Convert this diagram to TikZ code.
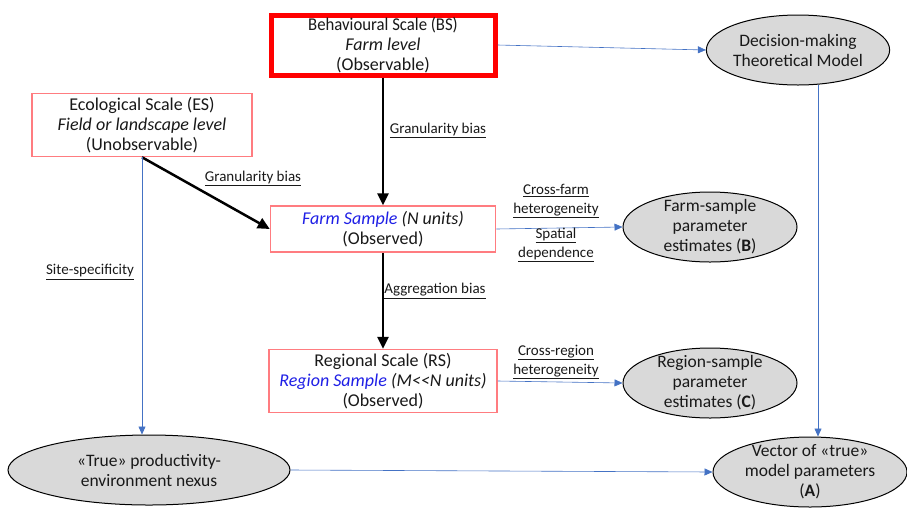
\documentclass[tikz,border=0pt]{standalone}
\usepackage{fontspec}
\setmainfont{Carlito}
\newfontfamily\tightfont{Carlito}[FakeStretch=0.93]
\usetikzlibrary{arrows.meta,positioning,shapes.geometric}
\definecolor{edge}{HTML}{FF7C80}
\definecolor{link}{HTML}{4472C4}
\definecolor{cloud}{HTML}{D9D9D9}
\definecolor{samp}{HTML}{1F1FE6}

\begin{document}
\begin{tikzpicture}[x=1pt,y=-1pt,text=black!90,
  scl/.style={rectangle,draw=edge,line width=1.5pt,fill=white,align=center,inner xsep=4pt,inner ysep=1pt,
    font=\fontsize{18}{20}\selectfont},
  est/.style={ellipse,draw=black,line width=1pt,fill=cloud,align=center,inner xsep=0pt,inner ysep=-6pt,
    font=\fontsize{17.5}{20}\selectfont},
  bias/.style={-{Triangle[length=12pt,width=11pt]},line width=2.5pt},
  flow/.style={-{Triangle[length=8pt,width=7pt]},draw=link,line width=0.6pt},
  lbl/.style={font=\fontsize{15}{19}\selectfont,align=center,inner sep=1pt}]
\useasboundingbox (0,0) rectangle (907,507);
% scales
\node[scl,draw=red,line width=5pt,minimum width=224pt,minimum height=60pt] (bs) at (383,45) {{\tightfont Behavioural Scale (BS)}\\\textit{Farm level}\\(Observable)};
\node[scl,minimum width=220pt,minimum height=63pt] (es) at (142,125) {Ecological Scale (ES)\\\textit{Field or landscape level}\\(Unobservable)};
\node[scl,minimum width=225pt,minimum height=46pt] (fs) at (383,229) {\textit{\textcolor{samp}{Farm Sample} (N units)}\\(Observed)};
\node[scl,minimum width=228pt,minimum height=63pt] (rs) at (383,381) {Regional Scale (RS)\\\textit{\textcolor{samp}{Region Sample} (M<{}<N units)}\\(Observed)};
% estimates
\node[est,minimum width=172pt,minimum height=70pt] (dm) at (798,50) {Decision-making\\Theoretical Model};
\node[est,minimum width=174pt,minimum height=70pt] (fe) at (710,227) {Farm-sample\\parameter\\estimates (\textbf{B})};
\node[est,minimum width=174pt,minimum height=70pt] (re) at (710,383) {Region-sample\\parameter\\estimates (\textbf{C})};
\node[est,minimum width=194pt,minimum height=70pt] (tv) at (810,472) {Vector of «true»\\model parameters\\(\textbf{A})};
\node[est,minimum width=282pt,minimum height=70pt] (tn) at (149,470) {«True» productivity-\\environment nexus};
% connectors
\draw[bias] (bs) -- (fs);
\draw[bias] (es.south) -- (fs.west);
\draw[bias] (fs) -- (rs);
\draw[flow] (bs.east) -- (dm.west);
\draw[flow] (dm.-60) -- (dm.-60 |- tv.north);
\draw[flow] (fs.east) -- (fe.west);
\draw[flow] (rs.east) -- (re.west);
\draw[flow] (es.south) -- (es.south |- tn.north);
\draw[flow] (tn.east) -- (tv.west);
% labels
\node[lbl] (gb1) at (438,130) {\underline{Granularity bias}};
\node[lbl] (gb2) at (253,178) {\underline{Granularity bias}};
\node[lbl] (ab) at (435,291) {\underline{Aggregation bias}};
\node[lbl] (cf) at (556,201) {\underline{Cross-farm}\\\underline{heterogeneity}};
\node[lbl] (sd) at (556,245) {\underline{Spatial}\\\underline{dependence}};
\node[lbl] (cr) at (556,362) {\underline{Cross-region}\\\underline{heterogeneity}};
\node[lbl] (ss) at (90,272) {\underline{Site-specificity}};
\end{tikzpicture}
\end{document}
